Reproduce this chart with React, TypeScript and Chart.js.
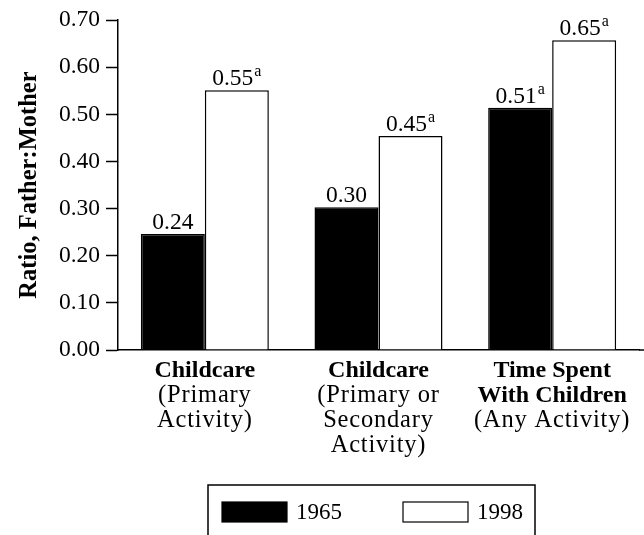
import React, { useEffect, useRef } from "react";
import { Chart, registerables } from "chart.js";

Chart.register(...registerables);

const SERIF = "'Liberation Serif', 'Times New Roman', serif";

// ---- data ----
const categoryBoldLines = [["Childcare"], ["Childcare"], ["Time Spent", "With Children"]];
const categoryNormalLines = [["(Primary", "Activity)"], ["(Primary or", "Secondary", "Activity)"], ["(Any Activity)"]];
const seriesNames = ["1965", "1998"];
const values1965 = [0.246, 0.303, 0.514];
const values1998 = [0.551, 0.454, 0.657];
const valueLabels1965 = ["0.24", "0.30", "0.51"];
const valueLabels1998 = ["0.55", "0.45", "0.65"];
const superscripts1965 = ["", "", "a"];
const superscripts1998 = ["a", "a", "a"];
const yTitle = "Ratio, Father:Mother";
const yMin = 0;
const yMax = 0.7;
const yStep = 0.1;

const valueLabels = [valueLabels1965, valueLabels1998];
const superscripts = [superscripts1965, superscripts1998];

const valueLabelPlugin = {
  id: "valueLabels",
  afterDatasetsDraw(chart: any) {
    const ctx = chart.ctx;
    ctx.save();
    ctx.fillStyle = "#000";
    ctx.textBaseline = "alphabetic";
    ctx.textAlign = "left";
    chart.data.datasets.forEach((_ds: any, di: number) => {
      const meta = chart.getDatasetMeta(di);
      meta.data.forEach((bar: any, i: number) => {
        const main = valueLabels[di][i];
        const sup = superscripts[di][i];
        ctx.font = `23.5px ${SERIF}`;
        const mw = ctx.measureText(main).width;
        ctx.font = `16px ${SERIF}`;
        const sw = sup ? ctx.measureText(sup).width + 1 : 0;
        const start = bar.x - (mw + sw) / 2;
        const base = bar.y - 5;
        ctx.font = `23.5px ${SERIF}`;
        ctx.fillText(main, start, base);
        if (sup) {
          ctx.font = `16px ${SERIF}`;
          ctx.fillText(sup, start + mw + 1, base - 9);
        }
      });
    });
    ctx.restore();
  },
};

const categoryLabelPlugin = {
  id: "categoryLabels",
  afterDraw(chart: any) {
    const ctx = chart.ctx;
    const xScale = chart.scales.x;
    const bottom = chart.chartArea.bottom;
    ctx.save();
    ctx.fillStyle = "#000";
    ctx.textAlign = "center";
    ctx.textBaseline = "alphabetic";
    categoryBoldLines.forEach((bold, i) => {
      const x = xScale.getPixelForValue(i);
      let y = bottom + 27;
      ctx.font = `bold 24px ${SERIF}`;
      ctx.letterSpacing = "0px";
      bold.forEach((line) => {
        ctx.fillText(line, x, y);
        y += 25;
      });
      ctx.font = `24.5px ${SERIF}`;
      ctx.letterSpacing = "0.8px";
      categoryNormalLines[i].forEach((line) => {
        ctx.fillText(line, x, y);
        y += 25;
      });
    });
    ctx.letterSpacing = "0px";
    // extend x axis line to the right edge
    ctx.strokeStyle = "#000";
    ctx.lineWidth = 1.5;
    ctx.beginPath();
    ctx.moveTo(chart.chartArea.right, bottom);
    ctx.lineTo(chart.width, bottom);
    ctx.stroke();
    ctx.restore();
  },
};

const legendPlugin = {
  id: "boxLegend",
  afterDraw(chart: any) {
    const ctx = chart.ctx;
    ctx.save();
    ctx.strokeStyle = "#000";
    ctx.lineWidth = 1.5;
    ctx.strokeRect(208, 485, 327, 70);
    const itemX = [222, 403];
    chart.data.datasets.forEach((ds: any, i: number) => {
      const x = itemX[i];
      ctx.fillStyle = ds.backgroundColor;
      ctx.fillRect(x, 502, 65, 20);
      ctx.lineWidth = 1.2;
      ctx.strokeRect(x, 502, 65, 20);
      ctx.fillStyle = "#000";
      ctx.font = `23px ${SERIF}`;
      ctx.textAlign = "left";
      ctx.textBaseline = "middle";
      ctx.fillText(seriesNames[i], x + 74, 513);
    });
    ctx.restore();
  },
};

export default function App() {
  const ref = useRef<HTMLCanvasElement>(null);
  useEffect(() => {
    document.body.style.margin = "0";
    const chart = new Chart(ref.current as HTMLCanvasElement, {
      type: "bar",
      data: {
        labels: categoryBoldLines.map((l) => l.join(" ")),
        datasets: [
          {
            label: seriesNames[0],
            data: values1965,
            backgroundColor: "#000",
            borderColor: "#000",
            borderWidth: 1.5,
            categoryPercentage: 0.737,
            barPercentage: 1,
          },
          {
            label: seriesNames[1],
            data: values1998,
            backgroundColor: "#fff",
            borderColor: "#000",
            borderWidth: 1.5,
            categoryPercentage: 0.737,
            barPercentage: 1,
          },
        ],
      },
      options: {
        animation: false,
        responsive: false,
        devicePixelRatio: 1,
        layout: { padding: { top: 19, right: 5, left: 0, bottom: 0 } },
        plugins: { legend: { display: false }, tooltip: { enabled: false } },
        scales: {
          x: {
            ticks: { display: false },
            grid: { display: false, drawTicks: false },
            border: { display: true, color: "#000", width: 1.5 },
            afterFit: (s: any) => {
              s.height = 185;
            },
          },
          y: {
            min: yMin,
            max: yMax,
            ticks: {
              stepSize: yStep,
              color: "#000",
              padding: 6,
              font: { family: SERIF, size: 23.5 },
              callback: (v: any) => Number(v).toFixed(2),
            },
            grid: {
              drawOnChartArea: false,
              drawTicks: true,
              tickLength: 12,
              tickColor: "#000",
              tickWidth: 1.5,
            },
            border: { display: true, color: "#000", width: 1.5 },
            title: {
              display: true,
              text: yTitle,
              color: "#000",
              font: { family: SERIF, size: 24.5, weight: "bold" },
              padding: { top: 15, bottom: 0 },
            },
            afterFit: (s: any) => {
              s.width = 118;
            },
          },
        },
      },
      plugins: [valueLabelPlugin, categoryLabelPlugin, legendPlugin],
    } as any);
    return () => chart.destroy();
  }, []);
  return (
    <div style={{ width: 644, height: 535, background: "#fff" }}>
      <canvas ref={ref} width={644} height={535} style={{ display: "block" }} />
    </div>
  );
}
